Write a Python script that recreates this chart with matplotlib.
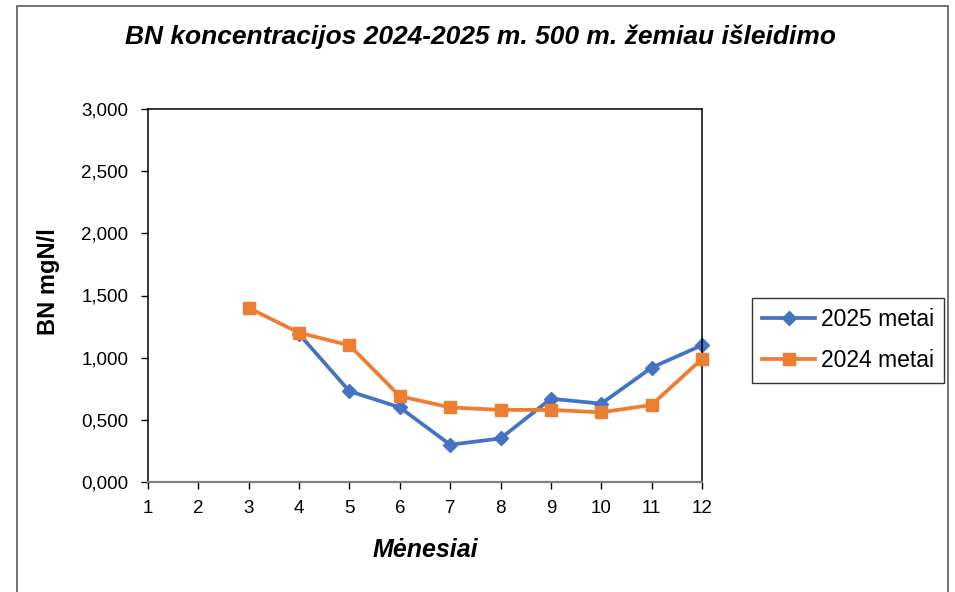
import matplotlib.pyplot as plt
import numpy as np
from matplotlib.ticker import FuncFormatter
from matplotlib.patches import Rectangle

plt.rcParams['font.family'] = ['Liberation Sans', 'DejaVu Sans']

months = [1, 2, 3, 4, 5, 6, 7, 8, 9, 10, 11, 12]
bn_2025 = [np.nan, np.nan, np.nan, 1.19, 0.73, 0.60, 0.30, 0.35, 0.67, 0.63, 0.92, 1.10]
bn_2024 = [np.nan, np.nan, 1.40, 1.20, 1.10, 0.69, 0.60, 0.58, 0.58, 0.56, 0.62, 0.99]

fig = plt.figure(figsize=(9.55, 5.92), dpi=100)
ax = fig.add_axes([148 / 955, 1 - 482 / 592, 554 / 955, 373 / 592])

# outer chart border
fig.patches.append(Rectangle((17 / 955, -0.01), (948 - 17) / 955, 1 - 6 / 592 + 0.01,
                             transform=fig.transFigure, fill=False,
                             edgecolor="#595959", lw=1.2))

# orange drawn over blue like in the original
ax.plot(months, bn_2025, color="#4472C4", lw=2.7, marker="D", ms=7, clip_on=False,
        zorder=2, label="2025 metai")
ax.plot(months, bn_2024, color="#ED7D31", lw=2.7, marker="s", ms=9, clip_on=False,
        zorder=3, label="2024 metai")

ax.set_xlim(1, 12)
ax.set_ylim(0, 3)
ax.set_xticks(months)
ax.set_yticks([0, 0.5, 1, 1.5, 2, 2.5, 3])
ax.yaxis.set_major_formatter(FuncFormatter(lambda v, p: f"{v:.3f}".replace(".", ",")))
ax.tick_params(labelsize=13.5, length=5, width=1)
ax.tick_params(axis="x", pad=8)
ax.tick_params(axis="y", pad=9)
for s in ax.spines.values():
    s.set_linewidth(1.1)
ax.spines["bottom"].set_color("#808080")
ax.spines["bottom"].set_linewidth(1.6)

ax.set_xlabel("Mėnesiai", fontsize=18, fontweight="bold", fontstyle="italic")
ax.xaxis.label.set_va("center")
ax.xaxis.set_label_coords(0.5, (482 - 550) / 373)
ax.set_ylabel("BN mgN/l", fontsize=17, fontweight="bold")
ax.yaxis.label.set_va("center")
ax.yaxis.set_label_coords((48 - 148) / 554, (482 - 282) / 373)

fig.text(480 / 955, 1 - 37 / 592, "BN koncentracijos 2024-2025 m. 500 m. žemiau išleidimo",
         ha="center", va="center", fontsize=19, fontweight="bold", fontstyle="italic")

leg = ax.legend(loc="upper left", bbox_to_anchor=(752 / 955, 1 - 298 / 592),
                bbox_transform=fig.transFigure, borderaxespad=0, fontsize=16.5,
                frameon=True, fancybox=False, edgecolor="black", handlelength=2.3,
                handletextpad=0.25, borderpad=0.45, labelspacing=0.78)
leg.get_frame().set_linewidth(1.0)

fig.savefig("out.png", dpi=100)
